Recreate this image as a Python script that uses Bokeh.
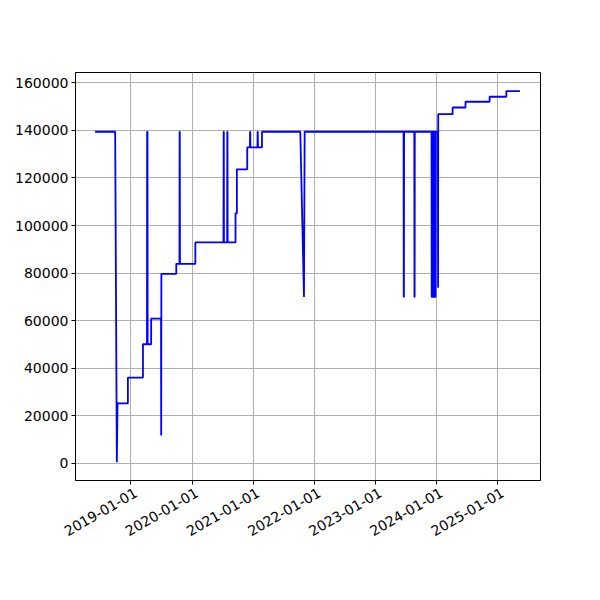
import math
import pandas as pd
from bokeh.plotting import figure
from bokeh.models import FixedTicker, NumeralTickFormatter, Range1d, DatetimeAxis
from bokeh.embed import file_html
from bokeh.resources import INLINE

# Line vertices (date, value)
dates = [
    "2018-06-01", "2018-09-29", "2018-10-09", "2018-10-13", "2018-12-14", "2018-12-14",
    "2019-03-14", "2019-03-14", "2019-04-07", "2019-04-08", "2019-04-10", "2019-04-11",
    "2019-05-02", "2019-05-02", "2019-06-30", "2019-07-01", "2019-07-02",
    "2019-09-29", "2019-09-29", "2019-10-18", "2019-10-19", "2019-10-20", "2019-10-21",
    "2020-01-21", "2020-01-21", "2020-07-07", "2020-07-08", "2020-07-09", "2020-07-10",
    "2020-07-29", "2020-07-30", "2020-07-31", "2020-08-01",
    "2020-09-17", "2020-09-17", "2020-09-25", "2020-09-25", "2020-11-26", "2020-11-26",
    "2020-12-12", "2020-12-13", "2020-12-14", "2020-12-15",
    "2021-01-26", "2021-01-27", "2021-01-28", "2021-01-29",
    "2021-02-22", "2021-02-22",
    "2021-10-09", "2021-10-31", "2021-11-04",
    "2023-06-18", "2023-06-19", "2023-06-20", "2023-06-21",
    "2023-08-21", "2023-08-22", "2023-08-23", "2023-08-24",
    "2023-12-02", "2023-12-03", "2023-12-04", "2023-12-05",
    "2023-12-08", "2023-12-09", "2023-12-10", "2023-12-11",
    "2023-12-14", "2023-12-15", "2023-12-16", "2023-12-17",
    "2023-12-20", "2023-12-21", "2023-12-22", "2023-12-23",
    "2023-12-24", "2023-12-25", "2023-12-26", "2023-12-27",
    "2024-01-09", "2024-01-10", "2024-01-11",
    "2024-04-06", "2024-04-06", "2024-06-22", "2024-06-22",
    "2024-11-13", "2024-11-13", "2025-02-21", "2025-02-21", "2025-05-13",
]
values = [
    139400, 139400, 500, 25300, 25300, 36100,
    36100, 50100, 50100, 139400, 139400, 50100,
    50100, 60900, 60900, 11800, 79700,
    79700, 83900, 83900, 139400, 139400, 83900,
    83900, 92900, 92900, 139400, 139400, 92900,
    92900, 139400, 139400, 92900,
    92900, 105100, 105100, 123600, 123600, 132800,
    132800, 139400, 139400, 132800,
    132800, 139400, 139400, 132800,
    132800, 139400,
    139400, 70000, 139400,
    139400, 70000, 70000, 139400,
    139400, 70000, 70000, 139400,
    139400, 70000, 70000, 139400,
    139400, 70000, 70000, 139400,
    139400, 70000, 70000, 139400,
    139400, 70000, 70000, 139400,
    139400, 70000, 70000, 139400,
    139400, 73800, 146800,
    146800, 149600, 149600, 152000,
    152000, 154100, 154100, 156500, 156500,
]

year_ticks = ["2019-01-01", "2020-01-01", "2021-01-01", "2022-01-01",
              "2023-01-01", "2024-01-01", "2025-01-01"]
y_ticks = [0, 20000, 40000, 60000, 80000, 100000, 120000, 140000, 160000]

x = pd.to_datetime(dates)
tick_ms = [pd.Timestamp(t).value / 1e6 for t in year_ticks]

x_lo, x_hi = pd.Timestamp("2018-02-04"), pd.Timestamp("2025-09-13")
p = figure(width=592, height=592, output_backend="svg", toolbar_location=None,
           x_axis_type="datetime",
           x_range=Range1d(x_lo, x_hi),
           y_range=Range1d(-7150, 164300),
           min_border_left=75, min_border_right=52, min_border_top=72, min_border_bottom=112)

p.line(x, values, line_color="blue", line_width=1.8)

# main x axis: ticks only
xa = p.xaxis[0]
xa.ticker = FixedTicker(ticks=tick_ms)
p.xgrid.ticker = FixedTicker(ticks=tick_ms)
xa.major_label_overrides = {t: "" for t in tick_ms}

# label axis: rotated labels, nudged so their right ends sit at the ticks
ms_per_px = (x_hi - x_lo).total_seconds() * 1000 / 465
shift = 5 * ms_per_px
lab_ticks = [t + shift for t in tick_ms]
la = DatetimeAxis(ticker=FixedTicker(ticks=lab_ticks),
                  major_label_overrides={t: s for t, s in zip(lab_ticks, year_ticks)},
                  major_label_orientation=math.pi / 6,
                  axis_line_color=None, major_tick_line_color=None,
                  minor_tick_line_color=None, major_tick_out=0, major_tick_in=0,
                  major_label_standoff=7,
                  major_label_text_font="DejaVu Sans",
                  major_label_text_font_size="14px",
                  major_label_text_color="black")
p.add_layout(la, "below")

p.yaxis.ticker = FixedTicker(ticks=y_ticks)
p.yaxis.formatter = NumeralTickFormatter(format="0")

for ax in (xa, p.yaxis[0]):
    ax.major_label_text_font = "DejaVu Sans"
    ax.major_label_text_font_size = "14px"
    ax.major_label_text_color = "black"
    ax.major_tick_out = 4
    ax.major_tick_in = 0
    ax.minor_tick_out = 0
    ax.minor_tick_in = 0
    ax.major_tick_line_color = "black"
    ax.axis_line_color = "black"
p.yaxis.major_label_standoff = 3
xa.major_label_standoff = 0

p.grid.grid_line_color = "#b0b0b0"
p.grid.grid_line_width = 1
p.outline_line_color = "black"
p.outline_line_width = 1
p.background_fill_color = "white"
p.border_fill_color = "white"

open("out.html", "w").write(file_html(p, INLINE))
